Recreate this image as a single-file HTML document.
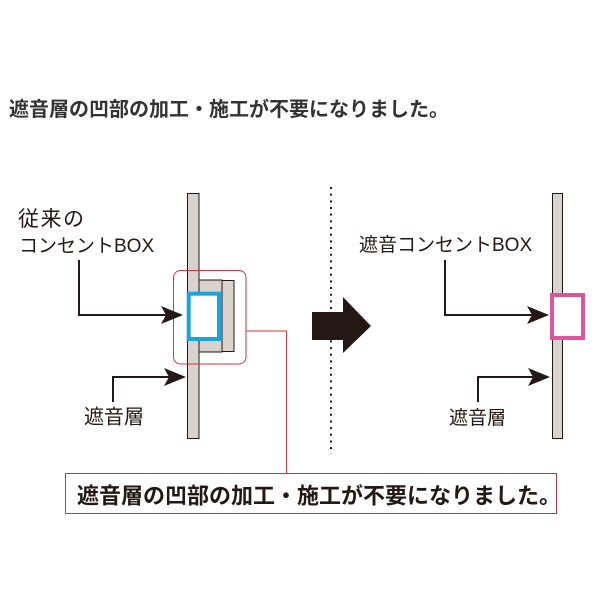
<!DOCTYPE html>
<html>
<head>
<meta charset="utf-8">
<style>
html,body{margin:0;padding:0;background:#fff;}
svg{display:block;}
text{font-family:"Liberation Sans","Noto Sans CJK JP",sans-serif;}
</style>
</head>
<body>
<svg width="600" height="600" viewBox="0 0 600 600" xmlns="http://www.w3.org/2000/svg">
  <rect x="0" y="0" width="600" height="600" fill="#fff"/>

  <!-- Title -->
  <text x="9" y="116" font-size="20" font-weight="bold" fill="#333">遮音層の凹部の加工・施工が不要になりました。</text>

  <!-- Dotted divider -->
  <line x1="331" y1="187" x2="331" y2="454" stroke="#231815" stroke-width="2" stroke-dasharray="2 4.67"/>

  <!-- LEFT: wall -->
  <rect x="187.5" y="193.5" width="11.5" height="245" fill="#d9d3d0" stroke="#231815" stroke-width="1"/>
  <!-- gray boxes -->
  <rect x="199" y="280" width="23" height="72" fill="#d9d3d0" stroke="#231815" stroke-width="1"/>
  <rect x="222" y="280.5" width="12" height="71" fill="#d9d3d0" stroke="#231815" stroke-width="1"/>
  <!-- blue box -->
  <rect x="188.7" y="293.7" width="30.3" height="45.3" fill="#fff" stroke="#1aa3dc" stroke-width="4"/>
  <!-- red rounded highlight -->
  <rect x="173.5" y="270.5" width="72.5" height="93.5" rx="7" ry="7" fill="none" stroke="#d2363f" stroke-width="1"/>
  <!-- red connector -->
  <polyline points="246,331 286.5,331 286.5,473.5" fill="none" stroke="#d2363f" stroke-width="1"/>

  <!-- Left labels -->
  <text x="18" y="226" font-size="21" fill="#231815" letter-spacing="1.5">従来の</text>
  <text x="19" y="252" font-size="19" fill="#231815">コンセントBOX</text>
  <text x="84" y="423.5" font-size="20" fill="#231815">遮音層</text>

  <!-- Left arrows -->
  <polyline points="79,260 79,315 166,315" fill="none" stroke="#231815" stroke-width="2"/>
  <polygon points="183,315 161,306 166,315 161,324" fill="#231815"/>
  <polyline points="113,402 113,377 169,377" fill="none" stroke="#231815" stroke-width="2"/>
  <polygon points="186,377 164,368 169,377 164,386" fill="#231815"/>

  <!-- Big arrow -->
  <polygon points="312,312 343,312 343,297 371,326 343,353 343,340 312,340" fill="#231815"/>

  <!-- RIGHT: wall -->
  <rect x="552.5" y="193.5" width="10" height="245" fill="#d9d3d0" stroke="#231815" stroke-width="1"/>
  <!-- pink box -->
  <rect x="552" y="295" width="31" height="43" fill="#fff" stroke="#e0559a" stroke-width="4"/>

  <!-- Right labels -->
  <text x="359" y="251" font-size="19" fill="#231815">遮音コンセントBOX</text>
  <text x="449" y="424" font-size="19" fill="#231815">遮音層</text>

  <!-- Right arrows -->
  <polyline points="445,260 445,315 532,315" fill="none" stroke="#231815" stroke-width="2"/>
  <polygon points="549,315 527,306 532,315 527,324" fill="#231815"/>
  <polyline points="478,402 478,377 533,377" fill="none" stroke="#231815" stroke-width="2"/>
  <polygon points="550,377 528,368 533,377 528,386" fill="#231815"/>

  <!-- Bottom box -->
  <rect x="65.5" y="473.5" width="491" height="40" fill="#fff" stroke="#c0393f" stroke-width="1"/>
  <text x="77" y="503.5" font-size="22" font-weight="bold" fill="#231815">遮音層の凹部の加工・施工が不要になりました。</text>
</svg>
</body>
</html>
